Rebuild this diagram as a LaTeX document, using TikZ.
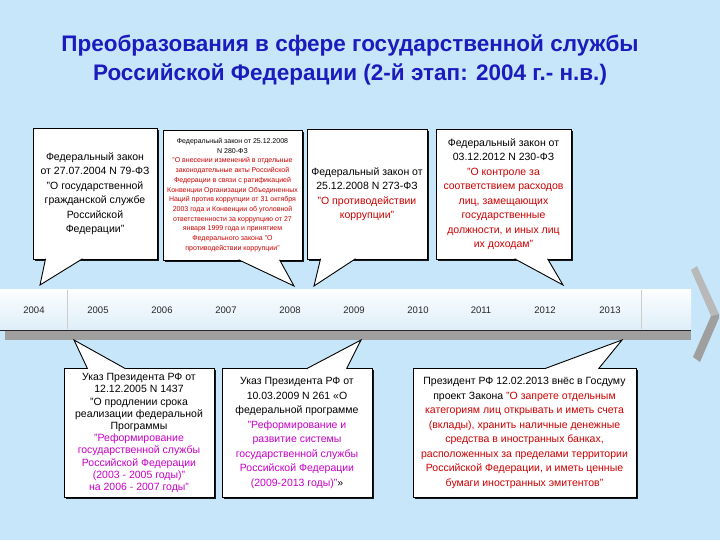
\documentclass[tikz,border=0pt]{standalone}
\usepackage{fontspec}
\setmainfont{Liberation Sans}
\usetikzlibrary{shadows}
\definecolor{bgblue}{RGB}{200,230,249}
\definecolor{titleblue}{RGB}{28,28,190}
\definecolor{lawred}{RGB}{205,0,0}
\definecolor{progpink}{RGB}{200,0,200}
\definecolor{bandtop}{RGB}{252,254,255}
\definecolor{bandbot}{RGB}{222,238,248}
\newcommand{\rd}[1]{\textcolor{lawred}{#1}}
\newcommand{\pk}[1]{\textcolor{progpink}{#1}}

\begin{document}
\begin{tikzpicture}[x=1pt,y=-1pt]
	\tikzstyle{box}=[rectangle,draw=black,fill=white,line width=0.9pt,inner sep=1pt,align=center,font=\fontsize{10.5}{14.5}\selectfont,drop shadow={shadow xshift=1.6pt,shadow yshift=-1.6pt,fill=black,opacity=0.9}]
	\tikzstyle{pointer}=[draw=black,fill=white,line width=0.9pt,line join=miter]
	\tikzstyle{year}=[font=\fontsize{9.5}{11}\selectfont,text=black!85]
	\tikzstyle{title}=[align=center,text=titleblue,font=\fontsize{22.5}{29}\selectfont\bfseries]
	\fill[bgblue] (0,0) rectangle (720,540);
	\useasboundingbox (0,0) rectangle (720,540);
	\node[title] (title) at (350,59.5) {Преобразования в сфере государственной службы\\Российской Федерации (2-й этап: 2004 г.- н.в.)};
	\shade[top color=bandtop,bottom color=bandbot] (0,289) rectangle (691,330);
	\fill[gray!75] (5,330) rectangle (691,340);
	\draw[black!85,line width=0.8pt] (0,330) -- (691,330);
	\draw[gray!40] (67,290) -- (67,329);
	\draw[gray!40] (641,290) -- (641,329);
	\fill[gray!55] (691,270) -- (697,266) -- (719,314) -- (711,316) -- cycle;
	\fill[gray!75] (711,316) -- (719,314) -- (719,318) -- (700,362) -- (693,357) -- cycle;
	\node[year] (y04) at (34,310) {2004};
	\node[year] (y05) at (98,310) {2005};
	\node[year] (y06) at (162,310) {2006};
	\node[year] (y07) at (226,310) {2007};
	\node[year] (y08) at (290,310) {2008};
	\node[year] (y09) at (354,310) {2009};
	\node[year] (y10) at (418,310) {2010};
	\node[year] (y11) at (481,310) {2011};
	\node[year] (y12) at (545,310) {2012};
	\node[year] (y13) at (610,310) {2013};
	\node[box,minimum width=124,minimum height=131] (b1) at (95,193.5) {Федеральный закон\\от 27.07.2004 N 79-ФЗ\\"О государственной\\гражданской службе\\Российской\\Федерации"};
	\node[box,minimum width=139,minimum height=130,font=\fontsize{7}{9.7}\selectfont] (b2) at (232.5,195) {Федеральный закон от 25.12.2008\\N 280-ФЗ\\\rd{"О внесении изменений в отдельные}\\\rd{законодательные акты Российской}\\\rd{Федерации в связи с ратификацией}\\\rd{Конвенции Организации Объединенных}\\\rd{Наций против коррупции от 31 октября}\\\rd{2003 года и Конвенции об уголовной}\\\rd{ответственности за коррупцию от 27}\\\rd{января 1999 года и принятием}\\\rd{Федерального закона "О}\\\rd{противодействии коррупции"}};
	\node[box,minimum width=120,minimum height=130] (b3) at (367,194) {Федеральный закон от\\25.12.2008 N 273-ФЗ\\\rd{"О противодействии}\\\rd{коррупции"}};
	\node[box,minimum width=135,minimum height=130] (b4) at (503.5,194) {Федеральный закон от\\03.12.2012 N 230-ФЗ\\\rd{"О контроле за}\\\rd{соответствием расходов}\\\rd{лиц, замещающих}\\\rd{государственные}\\\rd{должности, и иных лиц}\\\rd{их доходам"}};
	\node[box,minimum width=150,minimum height=129,font=\fontsize{10.5}{12.2}\selectfont] (b5) at (139,433) {Указ Президента РФ от\\12.12.2005 N 1437\\"О продлении срока\\реализации федеральной\\Программы\\\pk{"Реформирование}\\\pk{государственной службы}\\\pk{Российской Федерации}\\\pk{(2003 - 2005 годы)"}\\\pk{на 2006 - 2007 годы"}};
	\node[box,minimum width=150,minimum height=129] (b6) at (297,433) {Указ Президента РФ от\\10.03.2009 N 261 «О\\федеральной программе\\\pk{"Реформирование и}\\\pk{развитие системы}\\\pk{государственной службы}\\\pk{Российской Федерации}\\\pk{(2009-2013 годы)"}»};
	\node[box,minimum width=223,minimum height=129] (b7) at (524.5,433) {Президент РФ 12.02.2013 внёс в Госдуму\\проект Закона \rd{"О запрете отдельным}\\\rd{категориям лиц открывать и иметь счета}\\\rd{(вклады), хранить наличные денежные}\\\rd{средства в иностранных банках,}\\\rd{расположенных за пределами территории}\\\rd{Российской Федерации, и иметь ценные}\\\rd{бумаги иностранных эмитентов"}};
	\coordinate (t1) at (40,285);
	\coordinate (t2) at (294,286);
	\coordinate (t3) at (314,286);
	\coordinate (t4) at (563,285);
	\coordinate (t5) at (74,340);
	\coordinate (t6) at (361,340);
	\coordinate (t7) at (622,340);
	\draw[pointer] ([xshift=13pt,yshift=0.7pt]b1.south west) -- (t1) -- ([xshift=50pt,yshift=0.7pt]b1.south west);
	\draw[pointer] ([xshift=76pt,yshift=0.7pt]b2.south west) -- (t2) -- ([xshift=117pt,yshift=0.7pt]b2.south west);
	\draw[pointer] ([xshift=14pt,yshift=0.7pt]b3.south west) -- (t3) -- ([xshift=49pt,yshift=0.7pt]b3.south west);
	\draw[pointer] ([xshift=79pt,yshift=0.7pt]b4.south west) -- (t4) -- ([xshift=112pt,yshift=0.7pt]b4.south west);
	\draw[pointer] ([xshift=24pt,yshift=-0.7pt]b5.north west) -- (t5) -- ([xshift=62pt,yshift=-0.7pt]b5.north west);
	\draw[pointer] ([xshift=85pt,yshift=-0.7pt]b6.north west) -- (t6) -- ([xshift=125pt,yshift=-0.7pt]b6.north west);
	\draw[pointer] ([xshift=132pt,yshift=-0.7pt]b7.north west) -- (t7) -- ([xshift=186pt,yshift=-0.7pt]b7.north west);
\end{tikzpicture}
\end{document}
